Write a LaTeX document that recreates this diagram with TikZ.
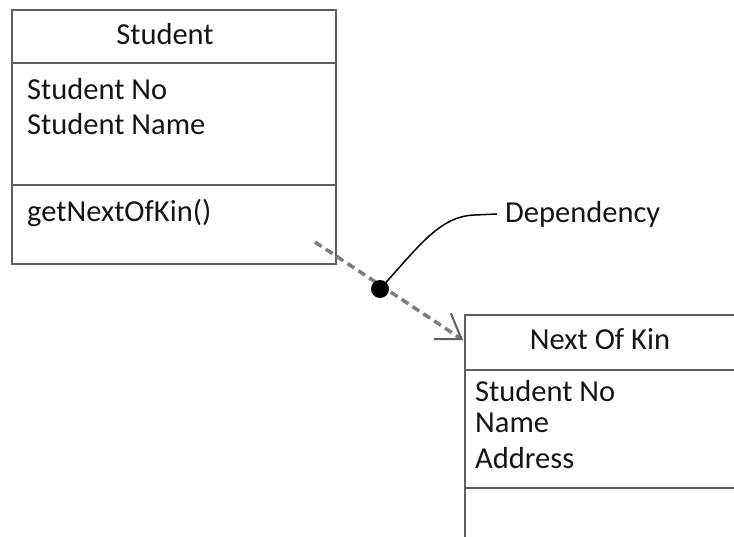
\documentclass[tikz,border=0pt]{standalone}
\usepackage{fontspec}
\setmainfont{Carlito}
\usetikzlibrary{arrows.meta}
\definecolor{boxgray}{RGB}{95,95,95}
\definecolor{dashgray}{RGB}{125,125,125}
\definecolor{txt}{RGB}{20,20,30}
\tikzset{
  classbox/.style={draw=boxgray, line width=2.5pt, rectangle, inner sep=0pt},
  divider/.style={draw=boxgray, line width=2.5pt},
  label/.style={anchor=base west, inner sep=0pt, text=txt, font=\fontsize{30.5}{36}\selectfont},
  title/.style={anchor=base, inner sep=0pt, text=txt, font=\fontsize{30.5}{36}\selectfont},
  depline/.style={draw=dashgray, line width=3.5pt, dash pattern=on 8pt off 5pt,
    -{Straight Barb[length=23pt, width=31pt, line width=2pt, color=boxgray]}},
  pointer/.style={draw=black, line width=1.5pt},
}
\begin{document}
\begin{tikzpicture}[x=1pt, y=-1pt]
\clip (0,0) rectangle (734,537);
\fill[white] (0,0) rectangle (734,537);
% Student class
\node[classbox, minimum width=324pt, minimum height=254pt] (student) at (174,137) {};
\draw[divider] (12,63) -- (336,63);
\draw[divider] (12,185) -- (336,185);
\node[title] (sname) at (165,45) {Student};
\node[label] (s1) at (27,100) {Student No};
\node[label] (s2) at (27,135) {Student Name};
\node[label] (s3) at (27,222) {getNextOfKin()};
% Next Of Kin class
\node[classbox, minimum width=300pt, minimum height=250pt] (nok) at (615,440) {};
\draw[divider] (465,370) -- (765,370);
\draw[divider] (465,488) -- (765,488);
\node[title] (nname) at (600,350) {Next Of Kin};
\node[label] (n1) at (475,402) {Student No};
\node[label] (n2) at (475,432) {Name};
\node[label] (n3) at (475,468) {Address};
% Dependency
\coordinate (depstart) at (315,242);
\coordinate (deptip) at (463,340);
\draw[depline] (depstart) -- (deptip);
\node[circle, fill=black, minimum size=18pt, inner sep=0pt] (dot) at (380,289) {};
\node[label] (dep) at (505,223) {Dependency};
\coordinate (curveend) at (497,214);
\draw[pointer] (dot.center) .. controls (420,245) and (440,216) .. (475,215) -- (curveend);
\end{tikzpicture}
\end{document}
